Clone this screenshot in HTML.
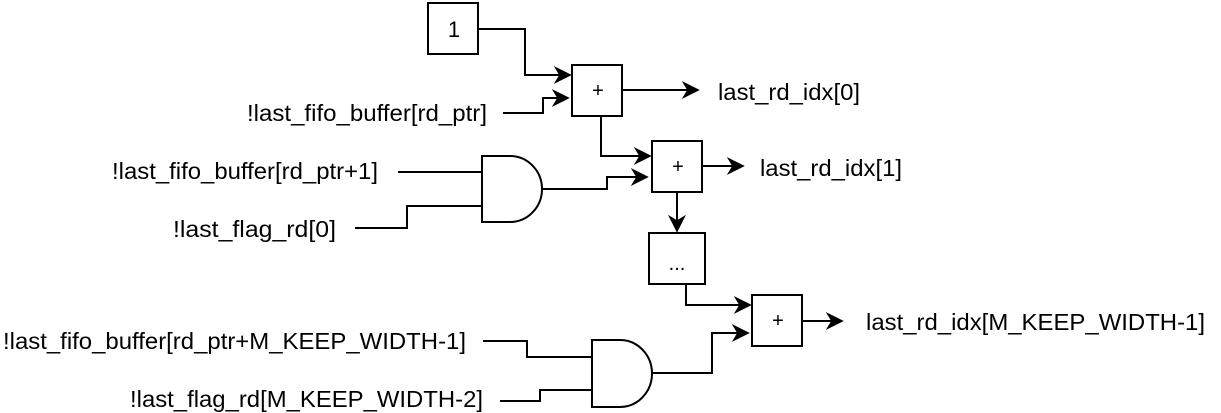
<!DOCTYPE html>
<html><head><style>html,body{margin:0;padding:0;background:#fff}svg{display:block}</style></head><body>
<svg width="1221" height="413" viewBox="0 0 1221 413" xmlns="http://www.w3.org/2000/svg" font-family="Liberation Sans, Arial, sans-serif" font-size="24">
<defs><marker id="b" viewBox="0 0 10 10" refX="9" refY="5" markerWidth="18" markerHeight="18" markerUnits="userSpaceOnUse" orient="auto"><path d="M0,0 L10,5 L0,10 L3,5 z" fill="#000"/></marker></defs>
<g fill="none" stroke="#000" stroke-width="2">
<rect x="428" y="3" width="50" height="51"/>
<rect x="572" y="65" width="50" height="51"/>
<rect x="652" y="141" width="50" height="51"/>
<rect x="649" y="233" width="56" height="51"/>
<rect x="752" y="295" width="50" height="51"/>
<path d="M482,156 H510 A32,33 0 0 1 510,222 H482 Z"/>
<path d="M592,340 H620 A32,33.5 0 0 1 620,407 H592 Z"/>
<path d="M478,29 H525 V75 H570" marker-end="url(#b)"/>
<path d="M503,113 H543 V98 H568" marker-end="url(#b)"/>
<path d="M622,90 H698" marker-end="url(#b)"/>
<path d="M601,116 V156 H650" marker-end="url(#b)"/>
<path d="M542,189 H607 V177 H647" marker-end="url(#b)"/>
<path d="M398,172 H482"/>
<path d="M355,228 H407 V206 H482"/>
<path d="M702,166 H743" marker-end="url(#b)"/>
<path d="M677,192 V231" marker-end="url(#b)"/>
<path d="M686,284 V305 H750" marker-end="url(#b)"/>
<path d="M652,373 H712 V333 H748" marker-end="url(#b)"/>
<path d="M483,341 H527 V357 H592"/>
<path d="M500,401 H540 V390 H592"/>
<path d="M802,321 H842" marker-end="url(#b)"/>
</g>
<g fill="#000" font-size="20">
<text x="454" y="37" text-anchor="middle" font-size="22">1</text>
<text x="598" y="97" text-anchor="middle">+</text>
<text x="678" y="173" text-anchor="middle">+</text>
<text x="778" y="327" text-anchor="middle">+</text>
<text x="677" y="270" text-anchor="middle">...</text>
</g>
<g fill="#000" font-size="23">
<text x="718" y="100" textLength="142" lengthAdjust="spacingAndGlyphs">last_rd_idx[0]</text>
<text x="760" y="176" textLength="142" lengthAdjust="spacingAndGlyphs">last_rd_idx[1]</text>
<text x="866" y="330" textLength="339" lengthAdjust="spacingAndGlyphs">last_rd_idx[M_KEEP_WIDTH-1]</text>
<text x="247" y="121" textLength="240" lengthAdjust="spacingAndGlyphs">!last_fifo_buffer[rd_ptr]</text>
<text x="112" y="179" textLength="266" lengthAdjust="spacingAndGlyphs">!last_fifo_buffer[rd_ptr+1]</text>
<text x="173" y="237" textLength="163" lengthAdjust="spacingAndGlyphs">!last_flag_rd[0]</text>
<text x="3" y="349" textLength="463" lengthAdjust="spacingAndGlyphs">!last_fifo_buffer[rd_ptr+M_KEEP_WIDTH-1]</text>
<text x="130" y="407" textLength="353" lengthAdjust="spacingAndGlyphs">!last_flag_rd[M_KEEP_WIDTH-2]</text>
</g>
</svg>
</body></html>
